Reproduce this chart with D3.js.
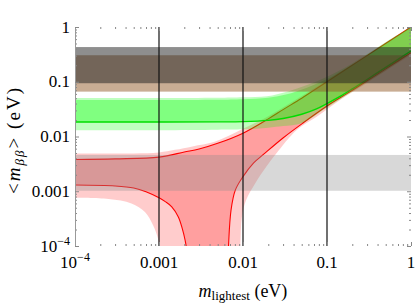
<!DOCTYPE html>
<html>
<head>
<meta charset="utf-8">
<script src="https://cdn.jsdelivr.net/npm/d3@7"></script>
<style>
  body { margin: 0; background: #fff; }
  svg { display: block; }
  text { font-family: "Liberation Serif", "Times New Roman", serif; fill: #000; }
</style>
</head>
<body>
<div id="chart"></div>
<script>
// effective mass <m_bb> vs lightest mass, all values in eV
// [m_lightest, m_bb] pairs
const nhBestUpper = [[1e-4, 0.0038], [3e-4, 0.0039], [1e-3, 0.0042], [2e-3, 0.0052], [3e-3, 0.0059],
  [5e-3, 0.0075], [0.01, 0.0115], [0.02, 0.021], [0.03, 0.031], [0.05, 0.05], [0.1, 0.1], [0.3, 0.3], [1, 1]];
const nhBestLower = [[1e-4, 0.0013], [3e-4, 0.00125], [5e-4, 0.00115], [7e-4, 0.00098], [1e-3, 0.00076],
  [1.2e-3, 0.00064], [1.42e-3, 0.00052], [1.7e-3, 0.00034], [1.89e-3, 0.00021], [2.04e-3, 0.00013],
  [2.12e-3, 0.00009], [2.2e-3, 0.00001], [6.4e-3, 0.00001], [6.7e-3, 0.00009], [7.2e-3, 0.00045],
  [8.1e-3, 0.00105], [0.01, 0.00185], [0.0134, 0.0033], [0.0175, 0.0047], [0.0302, 0.0095],
  [0.0522, 0.0178], [0.1, 0.036], [0.143, 0.051], [0.2, 0.07], [0.3, 0.104], [0.5, 0.172], [0.7, 0.24], [1, 0.34]];
const nhWideUpper = [[1e-4, 0.0049], [5e-4, 0.0049], [1e-3, 0.0051], [1.55e-3, 0.0057], [2.5e-3, 0.0066],
  [4.6e-3, 0.008], [0.01, 0.0138], [0.02, 0.0235], [0.05, 0.055], [0.1, 0.106], [0.3, 0.31], [1, 1.03]];
const nhWideLower = [[1e-4, 0.00076], [2.5e-4, 0.00072], [4.7e-4, 0.0006], [6.8e-4, 0.00042], [8.5e-4, 0.00024],
  [9.7e-4, 0.000138], [1e-3, 0.0001], [1.05e-3, 0.00001], [8.8e-3, 0.00001], [9.3e-3, 0.0001],
  [9.7e-3, 0.00034], [0.0109, 0.00069], [0.014, 0.0014], [0.0189, 0.0028], [0.0249, 0.0049],
  [0.0436, 0.0132], [0.0753, 0.023], [0.143, 0.0465], [0.3, 0.095], [1, 0.31]];

const ihBestUpper = [[1e-4, 0.0466], [1e-3, 0.0466], [5e-3, 0.047], [0.01, 0.048], [0.02, 0.051],
  [0.0334, 0.059], [0.0578, 0.078], [0.1, 0.112], [0.173, 0.18], [0.3, 0.302], [0.518, 0.52], [1, 1.0]];
const ihBestLower = [[1e-4, 0.0184], [1e-3, 0.0184], [5e-3, 0.0185], [0.01, 0.0187], [0.02, 0.0197],
  [0.03, 0.0213], [0.05, 0.0255], [0.075, 0.032], [0.1, 0.04], [0.143, 0.054], [0.2, 0.074], [0.3, 0.11],
  [0.5, 0.183], [0.7, 0.256], [1, 0.365]];
const ihWideUpper = [[1e-4, 0.0505], [1e-3, 0.0505], [5e-3, 0.051], [0.01, 0.052], [0.0193, 0.0545],
  [0.0334, 0.066], [0.0578, 0.087], [0.1, 0.124], [0.173, 0.19], [0.3, 0.32], [0.518, 0.55], [1, 1.0]];
const ihWideLower = [[1e-4, 0.013], [1e-3, 0.013], [5e-3, 0.0133], [0.01, 0.0135], [0.02, 0.0145],
  [0.03, 0.0155], [0.05, 0.0175], [0.1, 0.034], [0.2, 0.066], [0.5, 0.16], [1, 0.32]];

// horizontal bands [low, high]
const bandLight = [0.00102, 0.0046];
const bandTan = [0.066, 0.305];
const bandGray = [0.094, 0.43];

const markers = [0.001, 0.01, 0.1];
const decades = [1e-4, 1e-3, 1e-2, 1e-1, 1];
const tickLabels = [['10', '\u22124'], ['0.001'], ['0.01'], ['0.1'], ['1']];

const width = 417;
const height = 305;
const margin = { top: 27, right: 6, bottom: 59, left: 75 };

const svg = d3.select('#chart')
  .append('svg')
  .attr('width', width)
  .attr('height', height);

const x = d3.scaleLog()
  .domain([1e-4, 1])
  .range([margin.left, width - margin.right]);

const y = d3.scaleLog()
  .domain([1e-4, 1])
  .range([height - margin.bottom, margin.top]);

svg.append('clipPath').attr('id', 'plot')
  .append('rect')
  .attr('x', margin.left).attr('y', margin.top)
  .attr('width', width - margin.left - margin.right)
  .attr('height', height - margin.top - margin.bottom);

const line = d3.line()
  .x(d => x(d[0]))
  .y(d => y(d[1]))
  .curve(d3.curveCatmullRom);

// closed shape: upper edge left->right, lower edge back right->left
function region(upper, lower) {
  const top = line(upper);
  const bottom = line(lower.slice().reverse());
  return top + 'L' + bottom.slice(1) + 'Z';
}

const g = svg.append('g').attr('clip-path', 'url(#plot)');

// normal hierarchy (red)
g.append('path').attr('d', region(nhWideUpper, nhWideLower))
  .attr('fill', '#ff0000').attr('fill-opacity', 0.2);
g.append('path').attr('d', region(nhBestUpper, nhBestLower))
  .attr('fill', '#ff0000').attr('fill-opacity', 0.22);
g.selectAll('.nhline')
  .data([nhBestUpper, nhBestLower])
  .join('path')
  .attr('class', 'nhline')
  .attr('d', line)
  .attr('fill', 'none')
  .attr('stroke', '#ff0000')
  .attr('stroke-width', 1.1);

// inverted hierarchy (green)
g.append('path').attr('d', region(ihWideUpper, ihWideLower))
  .attr('fill', '#00ff00').attr('fill-opacity', 0.25);
g.append('path').attr('d', region(ihBestUpper, ihBestLower))
  .attr('fill', '#00ff00').attr('fill-opacity', 0.33);
g.append('path').attr('d', line(ihBestLower))
  .attr('fill', 'none')
  .attr('stroke', '#00dd00')
  .attr('stroke-width', 1.4);

// experimental bands
const bands = [
  { r: bandLight, fill: 'rgb(142,142,142)', op: 0.34 },
  { r: bandTan, fill: 'rgb(147,91,41)', op: 0.5 },
  { r: bandGray, fill: 'rgb(30,30,30)', op: 0.5 }
];
g.selectAll('.band')
  .data(bands)
  .join('rect')
  .attr('class', 'band')
  .attr('x', margin.left)
  .attr('width', width - margin.left - margin.right)
  .attr('y', d => y(d.r[1]))
  .attr('height', d => y(d.r[0]) - y(d.r[1]))
  .attr('fill', d => d.fill)
  .attr('fill-opacity', d => d.op);

// vertical reference lines
g.selectAll('.marker')
  .data(markers)
  .join('line')
  .attr('class', 'marker')
  .attr('x1', d => x(d)).attr('x2', d => x(d))
  .attr('y1', margin.top).attr('y2', height - margin.bottom)
  .attr('stroke', '#111')
  .attr('stroke-width', 1.2);

// frame ticks on all four sides, pointing inward
const allTicks = x.ticks();
const isMajor = d => Math.abs(Math.log10(d) - Math.round(Math.log10(d))) < 1e-9;
const minors = allTicks.filter(d => !isMajor(d));

function ticks(axis, scale, vals, size) {
  return axis(scale).tickValues(vals).tickSize(-size).tickSizeOuter(0).tickFormat('');
}
const sides = [
  { a: d3.axisBottom, s: x, t: `translate(0,${height - margin.bottom})` },
  { a: d3.axisTop, s: x, t: `translate(0,${margin.top})` },
  { a: d3.axisLeft, s: y, t: `translate(${margin.left},0)` },
  { a: d3.axisRight, s: y, t: `translate(${width - margin.right},0)` }
];
sides.forEach((side, i) => {
  [[minors, 2], [decades, 4]].forEach(([vals, size]) => {
    const ax = svg.append('g')
      .attr('transform', side.t)
      .call(ticks(side.a, side.s, vals, size));
    ax.selectAll('.tick line').attr('stroke', '#888');
    if (i === 2) ax.select('.domain').attr('stroke', '#999');
    else ax.select('.domain').remove();
  });
});

// tick labels
function label(sel, parts) {
  sel.append('tspan').text(parts[0]);
  if (parts[1]) sel.append('tspan').attr('dy', -7).attr('font-size', 12).text(parts[1]);
}
decades.forEach((d, i) => {
  svg.append('text')
    .attr('x', x(d)).attr('y', 268)
    .attr('text-anchor', 'middle')
    .attr('font-size', 17)
    .call(label, tickLabels[i]);
  svg.append('text')
    .attr('x', 70).attr('y', y(d) + 5.5)
    .attr('text-anchor', 'end')
    .attr('font-size', 17)
    .call(label, tickLabels[i]);
});

// axis titles
const xt = svg.append('text')
  .attr('x', 243).attr('y', 297)
  .attr('text-anchor', 'middle')
  .attr('font-size', 18);
xt.append('tspan').attr('font-style', 'italic').text('m');
xt.append('tspan').attr('font-size', 13).attr('dy', 3).text('lightest');
xt.append('tspan').attr('dy', -3).text(' (eV)');

// y title runs upward from the 0.001 level
const yt = svg.append('text')
  .attr('transform', 'translate(20,194) rotate(-90)')
  .attr('text-anchor', 'start')
  .attr('font-size', 19)
  .attr('textLength', 106)
  .attr('lengthAdjust', 'spacing');
yt.append('tspan').text('<');
yt.append('tspan').attr('font-style', 'italic').text('m');
yt.append('tspan').attr('font-style', 'italic').attr('font-size', 13).attr('dy', 4).text('\u03b2\u03b2');
yt.append('tspan').attr('dy', -4).text('>');
yt.append('tspan').text(' (eV)');
</script>
</body>
</html>
